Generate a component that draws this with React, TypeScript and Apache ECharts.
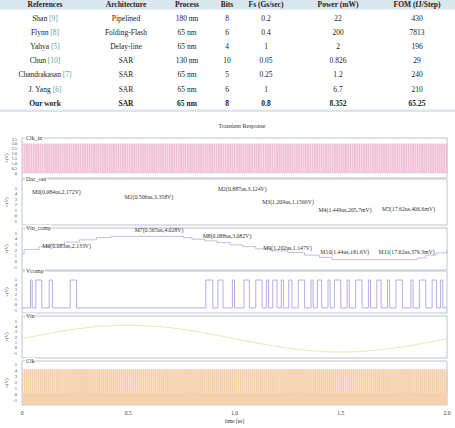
import React, { useEffect, useRef } from "react";
import * as echarts from "echarts";

// ---------- table data ----------
const tableHeaders = ["References", "Architecture", "Process", "Bits", "Fs (Gs/sec)", "Power (mW)", "FOM (fJ/Step)"];
const refNames = ["Shan", "Flynn", "Yahya", "Chun", "Chandrakasan", "J. Yang", "Our work"];
const refCites = ["[9]", "[8]", "[5]", "[10]", "[7]", "[6]", ""];
const architectures = ["Pipelined", "Folding-Flash", "Delay-line", "SAR", "SAR", "SAR", "SAR"];
const processes = ["180 nm", "65 nm", "65 nm", "130 nm", "65 nm", "65 nm", "65 nm"];
const bitsValues = ["8", "6", "4", "10", "5", "6", "8"];
const fsValues = ["0.2", "0.4", "1", "0.05", "0.25", "1", "0.8"];
const powerValues = ["22", "200", "2", "0.826", "1.2", "6.7", "8.352"];
const fomValues = ["430", "7813", "196", "29", "240", "210", "65.25"];

// ---------- waveform data ----------
const chartTitle = "Transient Response";
const panelLabels = ["Clk_in", "Dac_out", "Vin_comp", "Vcomp", "Vin", "Clk"];

// clocks (period in us)
const clkInPeriod = 0.0105;
const clkInHigh = 3.0;
const clkPeriod = 0.0095;
const clkHigh = 4.1;

// Vin_comp staircase [t(us), V]
const vinCompSteps: [number, number][] = [
  [0, 1.3], [0.01, 2.1], [0.08, 2.6], [0.13, 3.0], [0.2, 3.4], [0.27, 3.8], [0.35, 4.2], [0.42, 4.4],
  [0.76, 4.2], [0.8, 3.9], [0.86, 3.6], [0.92, 3.3], [0.98, 2.9], [1.04, 2.6], [1.1, 2.2], [1.17, 1.85],
  [1.25, 1.55], [1.33, 1.1], [1.4, 0.7], [1.46, 0.3], [1.86, 0.6], [1.9, 1.1], [1.95, 1.5], [2.0, 1.9],
];

// Vcomp pulses [start, end] (us)
const vcompPulses: [number, number][] = [
  [0.04, 0.048], [0.065, 0.093], [0.128, 0.143], [0.227, 0.257],
  [0.865, 0.898], [0.922, 0.946], [0.99, 1.0], [1.045, 1.07], [1.1, 1.13], [1.15, 1.16], [1.18, 1.2],
  [1.22, 1.23], [1.255, 1.27], [1.3, 1.33], [1.36, 1.37], [1.39, 1.41], [1.44, 1.45], [1.47, 1.5],
  [1.53, 1.54], [1.57, 1.6], [1.63, 1.64], [1.67, 1.69], [1.72, 1.73], [1.76, 1.79], [1.83, 1.84],
  [1.87, 1.9], [1.93, 1.95], [1.97, 1.98],
];
const vcompHigh = 4.8;
const vcompLow = -0.6;

// Vin sine samples every 0.1 us
const vinTimes = [0, 0.1, 0.2, 0.3, 0.4, 0.5, 0.6, 0.7, 0.8, 0.9, 1.0, 1.1, 1.2, 1.3, 1.4, 1.5, 1.6, 1.7, 1.8, 1.9, 2.0];
const vinValues = [1.7, 2.47, 3.17, 3.72, 4.08, 4.2, 4.08, 3.72, 3.17, 2.47, 1.7, 0.93, 0.23, -0.32, -0.68, -0.8, -0.68, -0.32, 0.23, 0.93, 1.7];

// marker annotations [text, t, V]
const dacMarkers: [string, number, number][] = [
  ["M0(0.084us,2.172V)", 0.047, 4.27],
  ["M1(0.506us,3.358V)", 0.482, 3.36],
  ["M2(0.887us,3.124V)", 0.922, 4.8],
  ["M3(1.209us,1.1566V)", 1.13, 2.45],
  ["M4(1.449us,205.7mV)", 1.395, 1.0],
  ["M5(17.62us,406.6mV)", 1.693, 1.18],
];
const vinCompMarkers: [string, number, number][] = [
  ["M6(0.083us,2.133V)", 0.095, 2.7],
  ["M7(0.565us,4.028V)", 0.53, 5.5],
  ["M8(0.088us,3.082V)", 0.85, 4.47],
  ["M9(1.202us,1.147V)", 1.135, 2.35],
  ["M10(1.44us,181.6V)", 1.404, 1.65],
  ["M11(17.62us,379.3mV)", 1.678, 1.65],
];

const SERIF = "'Liberation Serif', 'DejaVu Serif', serif";

function squareWave(period: number, hi: number, lo: number, tEnd: number) {
  const pts: [number, number][] = [];
  for (let k = 0; k * period < tEnd; k++) {
    const t = k * period;
    pts.push([t, hi]);
    pts.push([t + period / 2, lo]);
  }
  pts.push([tEnd, lo]);
  return pts;
}

function pulseWave(pulses: [number, number][], hi: number, lo: number) {
  const pts: [number, number][] = [[0, lo]];
  pulses.forEach(([s, e]) => {
    pts.push([s, hi]);
    pts.push([e, lo]);
  });
  pts.push([2, lo]);
  return pts;
}

// panel layout (pixels)
const panelLayout = [
  { boxTop: 138, boxBot: 178, hiV: 3.5, hiY: 139, loV: 0, loY: 173, ticks: [0, 0.5, 1, 1.5, 2, 2.5, 3, 3.5] },
  { boxTop: 179, boxBot: 225, hiV: 5, hiY: 188, loV: -1, loY: 221, ticks: [-1, 0, 1, 2, 3, 4, 5] },
  { boxTop: 228, boxBot: 270, hiV: 5, hiY: 233, loV: -1, loY: 267, ticks: [-1, 0, 1, 2, 3, 4, 5] },
  { boxTop: 271, boxBot: 313, hiV: 5, hiY: 279, loV: -1, loY: 310, ticks: [-1, 0, 1, 2, 3, 4, 5] },
  { boxTop: 316, boxBot: 358, hiV: 5, hiY: 321, loV: -1, loY: 353, ticks: [-1, 0, 1, 2, 3, 4, 5] },
  { boxTop: 361, boxBot: 405, hiV: 5, hiY: 364, loV: -1, loY: 400, ticks: [-1, 0, 1, 2, 3, 4, 5] },
];

const colX = [45, 126, 187, 227, 266, 338, 417];
const headerY = 4.8;
const rowY0 = 18.3;
const rowStep = 14.17;

export default function App() {
  const ref = useRef<HTMLDivElement>(null);
  useEffect(() => {
    document.body.style.margin = "0";
    const chart = echarts.init(ref.current!, undefined, { renderer: "svg" });

    const grids: any[] = [];
    const xAxes: any[] = [];
    const yAxes: any[] = [];
    panelLayout.forEach((p, i) => {
      const ppv = (p.loY - p.hiY) / (p.hiV - p.loV);
      const max = p.hiV + (p.hiY - p.boxTop) / ppv;
      const min = p.loV - (p.boxBot - p.loY) / ppv;
      grids.push({
        left: 22, right: 8, top: p.boxTop, height: p.boxBot - p.boxTop,
        containLabel: false, outerBoundsMode: "none",
        show: true, borderColor: "#b9c5cb", borderWidth: 1, backgroundColor: "#fff",
      });
      const last = i === panelLayout.length - 1;
      xAxes.push({
        type: "value", gridIndex: i, min: 0, max: 2, interval: 0.5,
        axisLine: { show: false }, axisTick: { show: false }, splitLine: { show: false },
        axisLabel: {
          show: last, fontSize: 5.5, fontFamily: SERIF, color: "#333", margin: 5,
          formatter: (v: number) => (v === 0 ? "0" : v.toFixed(1)),
        },
        name: last ? "time (us)" : "", nameLocation: "middle", nameGap: 13, nameMoveOverlap: false,
        nameTextStyle: { fontSize: 5.5, fontFamily: SERIF, color: "#333" },
      });
      yAxes.push({
        type: "value", gridIndex: i, min, max,
        axisLine: { show: false }, axisTick: { show: false }, splitLine: { show: false },
        axisLabel: {
          customValues: p.ticks, fontSize: 4.5, fontFamily: SERIF, color: "#444", margin: 5,
          formatter: (v: number) => (i === 0 ? (v === 0 ? "0" : v.toFixed(1)) : String(v)),
        },
        name: "v(V)", nameLocation: "middle", nameGap: 13, nameRotate: 90, nameMoveOverlap: false,
        nameTextStyle: { fontSize: 5, fontFamily: SERIF, color: "#444" },
      });
    });

    const markLabel = {
      show: true, position: [0, 0], align: "left", verticalAlign: "middle",
      fontSize: 5.8, fontFamily: SERIF, color: "#333", formatter: "{b}",
    };

    const series: any[] = [
      {
        type: "line", xAxisIndex: 0, yAxisIndex: 0, step: "end", showSymbol: false, silent: true,
        data: squareWave(clkInPeriod, clkInHigh, 0, 2),
        lineStyle: { color: "#e8a2c2", width: 0.5 },
        areaStyle: { color: "#f5d3e2", opacity: 1 },
      },
      {
        type: "line", xAxisIndex: 1, yAxisIndex: 1, showSymbol: false, silent: true,
        data: [],
        markPoint: {
          symbol: "circle", symbolSize: 0, silent: true, label: markLabel,
          data: dacMarkers.map(([n, t, v]) => ({ name: n, coord: [t, v] })),
        },
      },
      {
        type: "line", xAxisIndex: 2, yAxisIndex: 2, step: "end", showSymbol: false, silent: true,
        data: vinCompSteps,
        lineStyle: { color: "#aeb0e0", width: 0.8 },
        markPoint: {
          symbol: "circle", symbolSize: 0, silent: true, label: markLabel,
          data: vinCompMarkers.map(([n, t, v]) => ({ name: n, coord: [t, v] })),
        },
      },
      {
        type: "line", xAxisIndex: 3, yAxisIndex: 3, step: "end", showSymbol: false, silent: true,
        data: pulseWave(vcompPulses, vcompHigh, vcompLow),
        lineStyle: { color: "#a9a6e6", width: 0.9 },
      },
      {
        type: "line", xAxisIndex: 4, yAxisIndex: 4, smooth: true, showSymbol: false, silent: true,
        data: vinTimes.map((t, k) => [t, vinValues[k]]),
        lineStyle: { color: "#e6e8b4", width: 1 },
      },
      {
        type: "line", xAxisIndex: 5, yAxisIndex: 5, step: "end", showSymbol: false, silent: true,
        data: squareWave(clkPeriod, clkHigh, 0, 2),
        lineStyle: { color: "#f1c393", width: 0.5 },
        areaStyle: { color: "#f5d2ad", opacity: 1, origin: "start" },
      },
    ];

    // table graphics
    const g: any[] = [];
    g.push({ type: "rect", shape: { x: 0, y: 0, width: 455, height: 9.5 }, style: { fill: "#dae6ee" }, silent: true });
    g.push({ type: "rect", shape: { x: 0, y: 109.5, width: 455, height: 2.5 }, style: { fill: "#dae6ee" }, silent: true });
    tableHeaders.forEach((h, c) => {
      g.push({
        type: "text", x: colX[c], y: headerY, silent: true,
        style: { text: h, fontSize: 7.5, fontWeight: "bold", fontFamily: SERIF, fill: "#222", align: "center", verticalAlign: "middle" },
      });
    });
    const cols = [architectures, processes, bitsValues, fsValues, powerValues, fomValues];
    refNames.forEach((name, r) => {
      const y = rowY0 + r * rowStep;
      const bold = r === refNames.length - 1;
      const fw = bold ? "bold" : "normal";
      g.push({
        type: "text", x: colX[0], y, silent: true,
        style: {
          text: refCites[r] ? `{n|${name}} {c|${refCites[r]}}` : `{n|${name}}`,
          rich: {
            n: { fontSize: 7.5, fontFamily: SERIF, fill: "#222", fontWeight: fw },
            c: { fontSize: 7.5, fontFamily: SERIF, fill: "#5aa3ad" },
          },
          fontSize: 7.5, fontFamily: SERIF, align: "center", verticalAlign: "middle",
        },
      });
      cols.forEach((col, c) => {
        g.push({
          type: "text", x: colX[c + 1], y, silent: true,
          style: { text: col[r], fontSize: 7.5, fontWeight: fw, fontFamily: SERIF, fill: "#222", align: "center", verticalAlign: "middle" },
        });
      });
    });
    // panel labels
    panelLayout.forEach((p, i) => {
      g.push({
        type: "text", x: 25, y: p.boxTop, silent: true, z: 100,
        style: {
          text: panelLabels[i], fontSize: 6, fontFamily: SERIF, fill: "#333",
          align: "left", verticalAlign: "middle", backgroundColor: "#fff", padding: [0, 1, 0, 1],
        },
      });
    });

    chart.setOption({
      animation: false,
      backgroundColor: "#fff",
      title: {
        text: chartTitle, left: 237, top: 118, textAlign: "center",
        textStyle: { fontSize: 6, fontFamily: SERIF, fontWeight: "normal", color: "#333" },
      },
      grid: grids,
      xAxis: xAxes,
      yAxis: yAxes,
      series,
      graphic: g,
    });
    return () => chart.dispose();
  }, []);
  return <div ref={ref} style={{ width: 455, height: 428 }} />;
}
